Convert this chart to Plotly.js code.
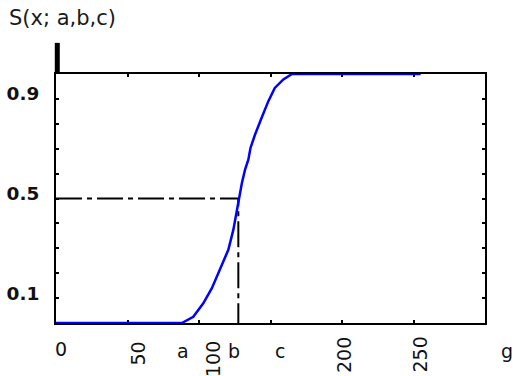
<!DOCTYPE html>
<html>
<head>
<meta charset="utf-8">
<script src="https://cdn.plot.ly/plotly-3.0.1.min.js"></script>
<style>html,body{margin:0;padding:0;background:#fff;}#chart{width:532px;height:376px;}</style>
</head>
<body>
<div id="chart"></div>
<script>
// S-function curve
var curveX = [0, 88, 96, 103, 109, 114.7, 120.5, 124, 126, 128.2, 130, 132.2, 134.5, 136, 139.2, 143.8, 148.5, 153, 159, 165, 255];
var curveY = [0, 0, 0.025, 0.079, 0.14, 0.213, 0.294, 0.374, 0.441, 0.502, 0.562, 0.616, 0.656, 0.703, 0.757, 0.824, 0.891, 0.944, 0.978, 1, 1];

// parameters
var paramA = 88, paramB = 127.5, paramC = 165, paramG = 300;
var halfLevel = 0.5;

// axis ticks
var xTickVals = [0, 50, 100, 150, 200, 250, 300];
var yTickVals = [0, 0.1, 0.2, 0.3, 0.4, 0.5, 0.6, 0.7, 0.8, 0.9, 1];
var yTickText = ['', '0.1', '', '', '', '0.5', '', '', '', '0.9', ''];

// x labels (values where they belong, text, rotation)
var xLabelVals  = [0, 50, paramA, 100, paramB, paramC, 200, 250, paramG];
var xLabelTexts = ['0', '50', 'a', '100', 'b', 'c', '200', '250', 'g'];
var xLabelAngle = [0, -90, 0, -90, 0, 0, -90, -90, 0];
// small pixel adjustments (style)
var xLabelDx = [5, 10, 1, 14, -4, -12, 2, 6, 22];
var xLabelDy = [-26, -31, -28, -36, -28, -28, -32, -32, -28];

var traces = [
  {x: [0, paramB, paramB], y: [halfLevel, halfLevel, 0], mode: 'lines', cliponaxis: false,
   line: {color: '#000', width: 2, dash: '26px,5px,5px,5px'}, hoverinfo: 'skip', showlegend: false},
  {x: curveX, y: curveY, mode: 'lines', cliponaxis: false,
   line: {color: '#0000ff', width: 2.5}, showlegend: false}
];

var annotations = xLabelVals.map(function (v, i) {
  var inRange = v <= 300;
  return {
    x: inRange ? v : 1, xref: inRange ? 'x' : 'paper',
    y: 0, yref: 'paper', text: xLabelTexts[i], textangle: xLabelAngle[i],
    showarrow: false, xanchor: 'center', yanchor: 'middle',
    xshift: xLabelDx[i], yshift: xLabelDy[i],
    font: {family: 'DejaVu Sans', size: 19, color: '#111'}
  };
});

var layout = {
  width: 532, height: 376,
  margin: {l: 56, r: 47, t: 74, b: 53, pad: 0},
  paper_bgcolor: '#fff', plot_bgcolor: '#fff',
  showlegend: false,
  title: {text: 'S(x; a,b,c)', x: 9 / 532, xref: 'container', xanchor: 'left',
          y: 1 - 18 / 376, yref: 'container', yanchor: 'middle',
          font: {family: 'DejaVu Sans', size: 21, color: '#1a1a1a'}},
  xaxis: {range: [0, 300], showgrid: false, zeroline: false, showline: true,
          linecolor: '#000', linewidth: 2, mirror: 'ticks', ticks: 'inside',
          ticklen: 3, tickwidth: 2, tickcolor: '#000', tickvals: xTickVals,
          showticklabels: false, layer: 'below traces', fixedrange: true},
  yaxis: {range: [0, 1], showgrid: false, zeroline: false, showline: true,
          linecolor: '#000', linewidth: 2, mirror: 'ticks', ticks: 'inside',
          ticklen: 3, tickwidth: 2, tickcolor: '#000', tickvals: yTickVals,
          ticktext: yTickText, ticklabelshift: -5, ticklabelstandoff: 11,
          tickfont: {family: 'DejaVu Sans', size: 18.5, color: '#111', weight: 'bold'},
          layer: 'below traces', fixedrange: true},
  shapes: [
    {type: 'line', xref: 'paper', yref: 'paper', x0: 0.003, x1: 0.003, y0: 1, y1: 1.125,
     line: {color: '#000', width: 5}}
  ],
  annotations: annotations
};

Plotly.newPlot('chart', traces, layout, {displayModeBar: false, staticPlot: true});
</script>
</body>
</html>
